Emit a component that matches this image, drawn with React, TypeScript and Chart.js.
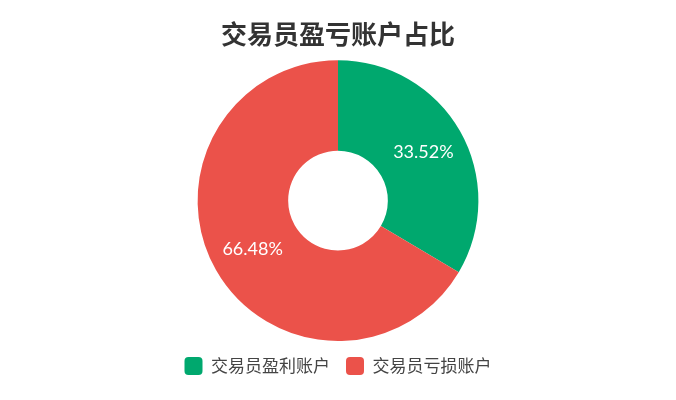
import React, { useEffect, useRef } from "react";
import { Chart, registerables } from "chart.js";

Chart.register(...registerables);

const categories = ["交易员盈利账户", "交易员亏损账户"];
const values = [33.52, 66.48];
const colors = ["#00A86E", "#EB524A"];
const titleText = "交易员盈亏账户占比";

const labelPlugin = {
  id: "sliceLabels",
  afterDatasetsDraw(chart: any) {
    const ctx = chart.ctx;
    const meta = chart.getDatasetMeta(0);
    ctx.save();
    ctx.fillStyle = "#ffffff";
    ctx.font = "18px Lato, 'Noto Sans CJK SC', sans-serif";
    ctx.textAlign = "center";
    ctx.textBaseline = "middle";
    meta.data.forEach((arc: any, i: number) => {
      const { x, y, startAngle, endAngle, outerRadius } = arc.getProps(
        ["x", "y", "startAngle", "endAngle", "outerRadius"],
        true
      );
      const mid = (startAngle + endAngle) / 2;
      const r = outerRadius * 0.7;
      ctx.fillText(values[i].toFixed(2) + "%", x + Math.cos(mid) * r, y + Math.sin(mid) * r);
    });
    ctx.restore();
  },
};

export default function App() {
  const ref = useRef<HTMLCanvasElement>(null);
  useEffect(() => {
    document.body.style.margin = "0";
    const chart = new Chart(ref.current!, {
      type: "doughnut",
      data: {
        labels: categories,
        datasets: [
          {
            data: values,
            backgroundColor: colors,
            borderWidth: 0,
          },
        ],
      },
      options: {
        animation: false,
        responsive: false,
        cutout: "35.5%",
        layout: { padding: { top: 0, bottom: 15 } },
        plugins: {
          title: {
            display: true,
            text: titleText,
            color: "#333333",
            font: { size: 26, weight: "bold", family: "'Noto Sans CJK SC', sans-serif" },
            padding: { top: 19, bottom: 10 },
          },
          legend: {
            position: "bottom",
            labels: {
              color: "#444444",
              font: { size: 17, family: "'Noto Sans CJK SC', sans-serif" },
              boxWidth: 18,
              boxHeight: 18,
              useBorderRadius: true,
              borderRadius: 4,
              padding: 16,
            },
          },
          tooltip: { enabled: false },
        },
      },
      plugins: [labelPlugin],
    });
    return () => chart.destroy();
  }, []);
  return <canvas ref={ref} width={676} height={400} style={{ display: "block" }} />;
}
